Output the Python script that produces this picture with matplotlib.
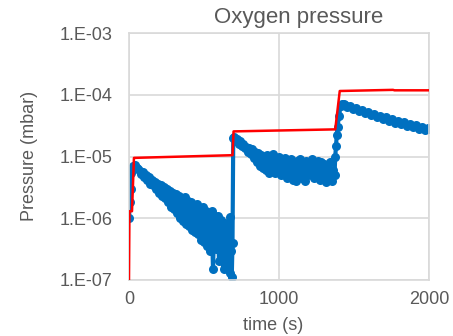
import matplotlib
matplotlib.use("Agg")
import matplotlib.pyplot as plt

plt.rcParams['font.family'] = ['Liberation Sans', 'DejaVu Sans']

# Measured oxygen pressure (mbar) vs time (s)
t1 = [0, 5, 10, 15, 20, 25, 30, 40, 50, 60, 70, 80, 90, 100, 110, 120, 130, 140, 150, 160,
      170, 180, 190, 200, 210, 220, 230, 240, 250, 260, 270, 280, 290, 300, 310, 320, 330, 340,
      350, 360, 370, 380, 390, 400, 410, 420, 430, 440, 450, 460, 470, 480, 490, 500, 510, 520,
      530, 540, 550, 560, 570, 580, 590, 600, 610, 620, 630, 640, 650, 660, 670, 675, 680, 685, 690]
p1 = [1.0, 1.8, 3.0, 5.5, 6.5, 7.0, 6.8, 7.2, 6.6, 6.2, 5.8, 5.2, 5.6, 4.6, 5.0, 4.2, 4.6, 3.6, 4.2, 3.4,
      3.9, 3.0, 3.6, 2.6, 3.4, 2.3, 3.2, 2.1, 3.0, 1.8, 2.8, 1.5, 2.6, 1.4, 2.5, 1.2, 2.3, 1.0,
      2.1, 0.9, 2.2, 0.8, 1.9, 0.75, 1.8, 0.65, 1.6, 0.6, 1.7, 0.55, 1.4, 0.45, 1.5, 0.42, 1.3, 0.35,
      1.2, 0.3, 1.3, 0.15, 1.1, 0.32, 1.1, 0.2, 0.95, 0.25, 0.15, 0.85, 0.18, 0.65, 0.13, 1.05, 0.3, 0.11, 0.4]
t2 = [695, 700, 710, 720, 730, 740, 750, 760, 770, 780, 790, 800, 810, 820, 830, 840, 850, 860, 870,
      880, 890, 900, 910, 920, 930, 940, 950, 960, 970, 980, 990, 1000, 1010, 1020, 1030, 1040, 1050,
      1060, 1070, 1080, 1090, 1100, 1110, 1120, 1130, 1140, 1150, 1160, 1170, 1180, 1190, 1200, 1210,
      1220, 1230, 1240, 1250, 1260, 1270, 1280, 1290, 1300, 1310, 1320, 1330, 1340, 1350, 1360, 1370,
      1375, 1380, 1385, 1390, 1400, 1410, 1420, 1430]
p2 = [2.0, 2.1, 1.8, 1.9, 1.6, 1.75, 1.5, 1.6, 1.35, 1.45, 1.2, 1.35, 1.1, 1.3, 0.95, 1.2, 0.8, 1.15, 0.7,
      1.05, 0.65, 1.0, 0.6, 1.05, 0.55, 0.95, 0.7, 1.1, 0.55, 0.9, 0.6, 1.0, 0.5, 0.9, 0.6, 0.95, 0.45,
      0.85, 0.55, 0.9, 0.42, 0.8, 0.4, 0.85, 0.5, 0.9, 0.45, 0.8, 0.4, 0.85, 0.5, 0.8, 0.55,
      0.9, 0.45, 0.75, 0.5, 0.85, 0.42, 0.8, 0.5, 0.75, 0.38, 0.7, 0.45, 0.8, 0.4, 0.6, 0.5,
      1.0, 1.5, 2.2, 3.0, 4.5, 6.5, 7.2, 7.0]
t3 = [1440, 1450, 1470, 1490, 1510, 1530, 1550, 1570, 1590, 1610, 1630, 1650, 1670, 1690, 1710,
      1730, 1750, 1770, 1790, 1810, 1830, 1850, 1870, 1890, 1910, 1930, 1950, 1970, 1990, 2000]
p3 = [6.9, 6.3, 6.5, 5.8, 6.1, 5.4, 5.7, 5.0, 5.3, 4.7, 4.9, 4.4, 4.6, 4.1, 4.3,
      3.8, 4.1, 3.55, 3.8, 3.35, 3.6, 3.15, 3.4, 2.95, 3.2, 2.8, 3.0, 2.65, 2.9, 2.75]

# Set-point pressure (red line)
t_set = [0, 3, 20, 33, 690, 697, 1375, 1405, 1760, 1770, 2000]
p_set = [1e-7, 1.3e-6, 1.3e-6, 9.5e-6, 1.05e-5, 2.55e-5, 2.75e-5, 1.15e-4, 1.2e-4, 1.18e-4, 1.18e-4]

t_meas = t1 + t2 + t3
p_meas = [v * 1e-6 for v in p1] + [v * 1e-5 for v in p2] + [v * 1e-5 for v in p3]

yticks = [1e-7, 1e-6, 1e-5, 1e-4, 1e-3]
ytick_labels = ['1.E-07', '1.E-06', '1.E-05', '1.E-04', '1.E-03']
xticks = [0, 1000, 2000]

gray = '#595959'
grid = '#D9D9D9'

fig = plt.figure(figsize=(4.53, 3.36), dpi=100)
ax = fig.add_axes([129/453, 1-280/336, 300/453, 247/336])

ax.plot(t_meas, p_meas, color='#0070C0', lw=3.0, marker='o', ms=6.5, mec='none', zorder=2)
ax.plot(t_set, p_set, color='#FF0000', lw=1.8, zorder=3)

ax.set_yscale('log')
ax.set_ylim(1e-7, 1e-3)
ax.set_xlim(0, 2000)
ax.set_yticks(yticks)
ax.set_yticklabels(ytick_labels)
ax.minorticks_off()
ax.set_xticks(xticks)
ax.tick_params(axis='both', length=0, labelsize=13, colors=gray)
ax.tick_params(axis='y', pad=12)
ax.tick_params(axis='x', pad=8)
ax.grid(True, color=grid, lw=1.2, zorder=0)
ax.set_axisbelow(True)
for s in ax.spines.values():
    s.set_color(grid)
    s.set_linewidth(1.2)

fig.text(299/453, 1-17/336, 'Oxygen pressure', ha='center', va='center', fontsize=16, color=gray)
fig.text(273/453, 1-325/336, 'time (s)', ha='center', va='center', fontsize=13, color=gray)
fig.text(30/453, 1-156/336, 'Pressure (mbar)', ha='center', va='center', rotation=90, fontsize=13, color=gray)

fig.savefig('out.png', dpi=100)
